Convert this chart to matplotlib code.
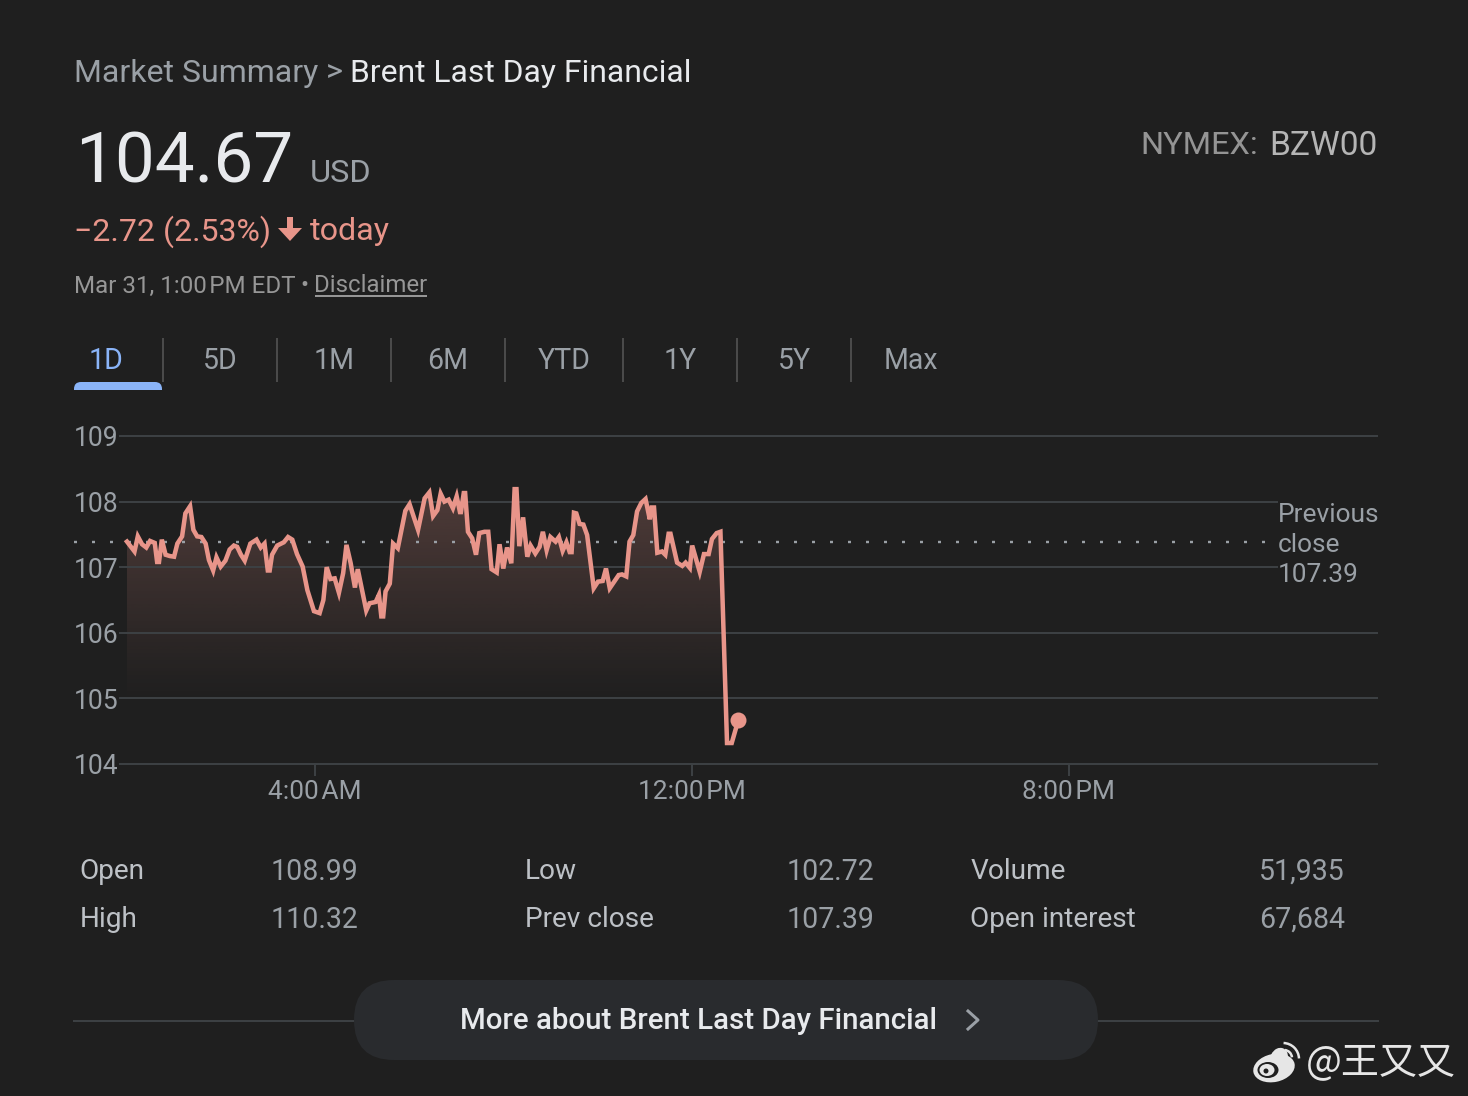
import numpy as np
import matplotlib
matplotlib.use("Agg")
import matplotlib.pyplot as plt
from matplotlib.patches import FancyBboxPatch, Rectangle, Ellipse, Polygon, Arc

# hours after midnight / price
hours = [0.01, 0.17, 0.24, 0.33, 0.42, 0.50, 0.60, 0.65, 0.69, 0.75, 0.83, 0.92, 1.01, 1.08, 1.18,
         1.25, 1.35, 1.42, 1.50, 1.59, 1.68, 1.75, 1.84, 1.91, 2.00, 2.10, 2.19, 2.28, 2.35, 2.43,
         2.51, 2.63, 2.76, 2.85, 2.93, 3.00, 3.04, 3.09, 3.20, 3.34, 3.43, 3.52, 3.62, 3.74, 3.84,
         3.98, 4.10, 4.18, 4.25, 4.33, 4.42, 4.51, 4.60, 4.67, 4.76, 4.85, 4.91, 5.09, 5.16, 5.29,
         5.36, 5.41, 5.45, 5.50, 5.59, 5.66, 5.76, 5.92, 6.01, 6.19, 6.33, 6.43, 6.51, 6.60, 6.67,
         6.75, 6.84, 6.93, 7.01, 7.08, 7.10, 7.16, 7.19, 7.25, 7.34, 7.42, 7.49, 7.60, 7.68, 7.75,
         7.86, 7.92, 8.00, 8.08, 8.17, 8.24, 8.28, 8.34, 8.42, 8.51, 8.58, 8.68, 8.77, 8.84, 8.92,
         9.00, 9.11, 9.18, 9.26, 9.34, 9.41, 9.45, 9.50, 9.55, 9.62, 9.70, 9.78, 9.92, 10.01, 10.11,
         10.18, 10.26, 10.45, 10.52, 10.61, 10.68, 10.76, 10.84, 10.93, 11.02, 11.11, 11.15, 11.20, 11.27, 11.37,
         11.44, 11.51, 11.55, 11.69, 11.80, 11.87, 11.96, 12.01, 12.17, 12.26, 12.36, 12.43, 12.53, 12.61, 12.75,
         12.85, 12.99]
prices = [107.39, 107.24, 107.47, 107.35, 107.30, 107.40, 107.37, 107.08, 107.08, 107.42, 107.19, 107.17, 107.16, 107.36, 107.47,
          107.82, 107.93, 107.57, 107.47, 107.46, 107.36, 107.11, 106.95, 107.15, 107.01, 107.10, 107.27, 107.33, 107.31, 107.19,
          107.10, 107.36, 107.42, 107.30, 107.36, 106.95, 106.95, 107.19, 107.33, 107.38, 107.46, 107.42, 107.20, 107.01, 106.65,
          106.33, 106.30, 106.50, 107.00, 106.82, 106.83, 106.61, 106.91, 107.34, 107.06, 106.69, 106.97, 106.34, 106.45, 106.47,
          106.58, 106.25, 106.25, 106.63, 106.75, 107.36, 107.29, 107.86, 107.96, 107.57, 108.05, 108.14, 107.78, 107.87, 108.12,
          108.00, 108.03, 107.90, 108.08, 107.84, 107.84, 108.13, 108.13, 107.54, 107.44, 107.19, 107.52, 107.54, 107.54, 106.97,
          106.92, 107.35, 106.98, 107.30, 107.06, 108.19, 108.19, 107.32, 107.76, 107.16, 107.33, 107.21, 107.31, 107.54, 107.26,
          107.46, 107.39, 107.46, 107.25, 107.38, 107.23, 107.23, 107.83, 107.82, 107.66, 107.65, 107.49, 106.68, 106.78, 106.79,
          106.98, 106.68, 106.88, 106.89, 106.86, 107.39, 107.49, 107.85, 107.98, 108.04, 107.73, 107.91, 107.91, 107.22, 107.24,
          107.19, 107.51, 107.51, 107.07, 107.02, 107.07, 106.99, 107.33, 106.93, 107.20, 107.20, 107.43, 107.52, 107.54, 104.32,
          104.32, 104.67]
prev_close = 107.39
y_ticks = [104, 105, 106, 107, 108, 109]
x_ticks = [4, 12, 20]
x_tick_labels = ["4:00\u200aAM", "12:00\u200aPM", "8:00\u200aPM"]
tabs = ["1D", "5D", "1M", "6M", "YTD", "1Y", "5Y", "Max"]
stat_names = ["Open", "High", "Low", "Prev close", "Volume", "Open interest"]
stat_values = ["108.99", "110.32", "102.72", "107.39", "51,935", "67,684"]

W, H = 1468, 1096
BG = "#1f1f1f"
GRID = "#3c4043"
SALMON = "#e8958a"
GREY = "#9aa0a6"
LIGHT = "#bdc1c6"
WHITE = "#e8eaed"

plt.rcParams["font.family"] = ["Roboto", "DejaVu Sans"]

fig = plt.figure(figsize=(W / 100, H / 100), dpi=100, facecolor=BG)

# overlay in pixel coordinates for the page furniture
page = fig.add_axes([0, 0, 1, 1], zorder=1)
page.set_xlim(0, W)
page.set_ylim(H, 0)
page.axis("off")


def label(x, y, s, size, color=LIGHT, ha="left", **kw):
    return page.text(x, y, s, fontsize=size * 0.72, color=color, ha=ha, va="center", **kw)


label(74, 73, "Market Summary", 32, GREY)
label(326, 73, ">", 32, GREY)
label(350, 73, "Brent Last Day Financial", 31.9, WHITE)
label(75, 163, "104.67", 71, WHITE)
label(310, 174, "USD", 32.5, GREY)
label(1258, 146, "NYMEX:", 32.5, "#949494", ha="right")
label(1378, 146, "BZW00", 33.5, "#b5b5b5", ha="right")
label(74, 232, "\u22122.72 (2.53%)", 32, SALMON)
label(310, 232, "today", 32.3, SALMON)
page.plot([290, 290], [217, 232], color=SALMON, lw=6 * 0.72, solid_capstyle="butt")
page.add_patch(Polygon([[278, 228], [302, 228], [290, 241]], closed=True, fc=SALMON, ec="none"))
label(74, 286, "Mar 31, 1:00\u200aPM EDT", 24.1, "#969696")
label(300.5, 285, "\u2022", 24, "#969696")
label(314.5, 286, "Disclaimer", 24, "#969696")
page.plot([315, 427], [295.5, 295.5], color="#969696", lw=2 * 0.72, solid_capstyle="butt")

# tabs
tab_x = [106, 220, 334, 448, 564, 680, 794, 911]
for x, t in zip(tab_x, tabs):
    label(x, 361, t, 28.5, "#8ab4f8" if t == "1D" else GREY, ha="center")
for x in [163, 277, 391, 505, 623, 737, 851]:
    page.plot([x, x], [338, 382], color="#4a4a4a", lw=2 * 0.72, solid_capstyle="butt")
clip = Rectangle((74, 382), 88, 8, transform=page.transData)
under = FancyBboxPatch((74, 382), 88, 20, boxstyle="round,pad=0,rounding_size=7", fc="#8ab4f8", ec="none")
page.add_patch(under)
under.set_clip_path(clip)

# price chart
px_per_hour = 47.1
origin = 126.5
left, right, top, bottom = 74, 1378, 436, 764
ax = fig.add_axes([left / W, 1 - bottom / H, (right - left) / W, (bottom - top) / H], zorder=2)
ax.patch.set_alpha(0)
xlim = ((left - origin) / px_per_hour, (right - origin) / px_per_hour)
ax.set_xlim(xlim)
ax.set_ylim(104, 109)
for s in ax.spines.values():
    s.set_visible(False)

grid_start = (119 - origin) / px_per_hour
ax.hlines(y_ticks, grid_start, xlim[1], color=GRID, lw=2 * 0.72, zorder=2, clip_on=False)

ax.set_yticks(y_ticks)
ax.set_xticks(x_ticks)
ax.set_xticklabels(x_tick_labels)
ax.tick_params(axis="y", length=0, pad=-44.5 * 0.72, labelsize=26.5 * 0.72, labelcolor=GREY)
ax.tick_params(axis="x", length=12 * 0.72, width=2 * 0.72, color=GRID, pad=3, labelsize=26.3 * 0.72, labelcolor=GREY)

# fill under the line, fading out downwards
poly = ax.fill_between(hours[:-3], prices[:-3], 104, color="none")
grad = np.zeros((256, 1, 4))
grad[..., :3] = matplotlib.colors.to_rgb(SALMON)
grad[:, 0, 3] = np.linspace(0.28, 0, 256) ** 1.1
im = ax.imshow(grad, extent=[0, 13, 104.9, 108.2], origin="upper", aspect="auto", zorder=1)
im.set_clip_path(poly.get_paths()[0], transform=ax.transData)
ax.set_xlim(xlim)
ax.set_ylim(104, 109)

ax.hlines(prev_close, xlim[0], (1268 - origin) / px_per_hour, color=GREY, lw=2.4 * 0.72,
          linestyles=[(0, (1.25, 6.25))], zorder=3, clip_on=False)
ax.plot(hours, prices, color=SALMON, lw=4.5 * 0.72, solid_joinstyle="miter", zorder=4)
ax.plot(hours[-1:], prices[-1:], "o", color=SALMON, ms=16 * 0.72, mew=0, zorder=5)

# previous close note, masks the grid behind it
note = fig.add_axes([0, 0, 1, 1], zorder=3)
note.set_xlim(0, W)
note.set_ylim(H, 0)
note.axis("off")
note.add_patch(Rectangle((1278, 495), 104, 90, fc=BG, ec="none"))
for y, s in zip([514.5, 544.5, 574.5], ["Previous", "close", "107.39"]):
    note.text(1277.5, y, s, fontsize=26.2 * 0.72, color=GREY, va="center")

# stats block
stat_x = [79.5, 79.5, 525, 525, 970.5, 970.5]
stat_y = [871.5, 919.5, 871.5, 919.5, 871.5, 919.5]
val_x = [358.5, 358.5, 874, 874, 1345, 1345]
for x, vx, y, n, v in zip(stat_x, val_x, stat_y, stat_names, stat_values):
    label(x, y, n, 28, LIGHT)
    label(vx, y, v, 28.5, GREY, ha="right")

# button
page.plot([74, 1378], [1021, 1021], color=GRID, lw=2 * 0.72)
page.add_patch(FancyBboxPatch((354, 980), 744, 80, boxstyle="round,pad=0,rounding_size=40",
                              fc="#292b2e", ec="none", zorder=3))
page.text(459.5, 1021, "More about Brent Last Day Financial", fontsize=29.5 * 0.72, color=WHITE,
          va="center", weight="medium", zorder=4)
page.plot([968, 978, 968], [1011, 1020, 1029], color=GREY, lw=3 * 0.72, zorder=4)

# watermark
mark = "#e6e6e6"
page.add_patch(Ellipse((1274, 1068), 42, 28, angle=-12, fc=mark, ec="none"))
page.add_patch(Ellipse((1279, 1058), 17, 21, angle=25, fc=mark, ec="none"))
page.add_patch(Ellipse((1268, 1070), 21, 16, fc=BG, ec="none"))
page.add_patch(Ellipse((1267, 1070), 15, 12, fc=mark, ec="none"))
page.add_patch(Ellipse((1266, 1071), 5, 5, fc=BG, ec="none"))
page.add_patch(Arc((1284, 1058), 16, 16, theta1=-85, theta2=-5, color=mark, lw=1.8))
page.add_patch(Arc((1283, 1059), 32, 32, theta1=-88, theta2=-2, color=mark, lw=1.8))
page.text(1306, 1064, "@王又又", fontsize=38 * 0.72, color=mark, va="center",
          family=["Noto Sans CJK SC", "DejaVu Sans"])

fig.savefig("out.png", dpi=100, facecolor=BG)
